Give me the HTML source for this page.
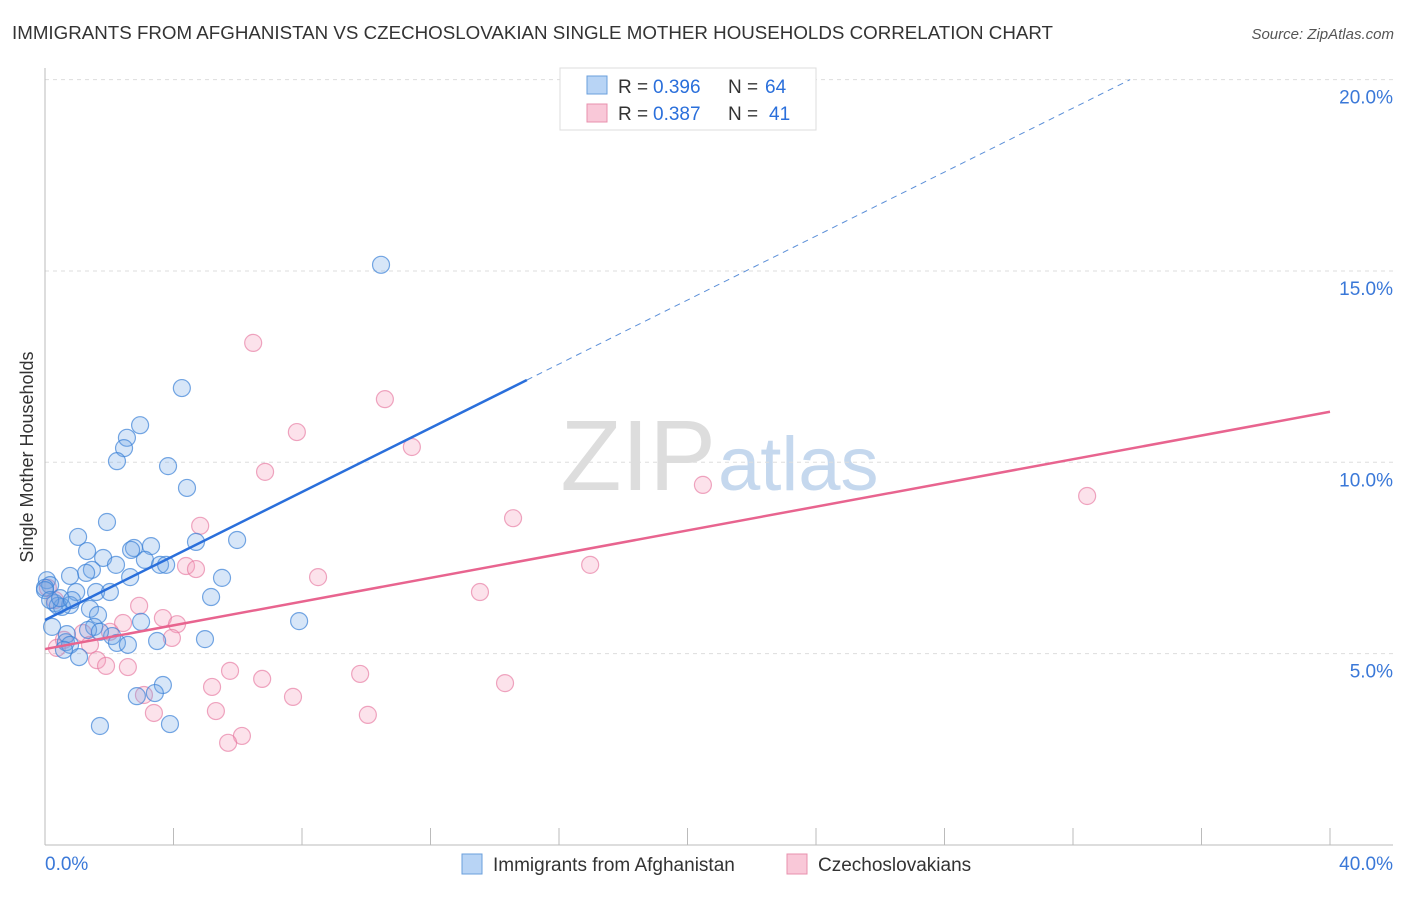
<!DOCTYPE html>
<html><head><meta charset="utf-8"><style>
body{margin:0;background:#fff;font-family:"Liberation Sans",sans-serif;}
svg text{font-family:"Liberation Sans",sans-serif;}
</style></head><body>
<svg id="chart" width="1406" height="892">
<text x="12" y="39" font-size="18" fill="#333" textLength="1041" lengthAdjust="spacingAndGlyphs">IMMIGRANTS FROM AFGHANISTAN VS CZECHOSLOVAKIAN SINGLE MOTHER HOUSEHOLDS CORRELATION CHART</text>
<text x="1394" y="39" font-size="15" fill="#555" font-style="italic" text-anchor="end">Source: ZipAtlas.com</text>
<text x="33" y="457" font-size="18" fill="#333" text-anchor="middle" transform="rotate(-90 33 457)">Single Mother Households</text>
<text x="716" y="490" font-size="100" fill="#ddd" font-family="Liberation Serif" text-anchor="end">ZIP</text>
<text x="718" y="490" font-size="76" fill="#c5d8ee">atlas</text>
<g id="grid"></g><g id="axes"></g><g id="pts"></g><g id="lines"></g>
<g>
<rect x="560" y="68" width="256" height="62" fill="#fff" stroke="#ddd"/>
<rect x="587" y="76" width="20" height="18" fill="#b8d4f5" stroke="#6a9fdc"/>
<rect x="587" y="104" width="20" height="18" fill="#f9c8d8" stroke="#e890ae"/>
<text y="93" font-size="19" fill="#333"><tspan x="618">R =</tspan><tspan x="653" fill="#2a6fdb">0.396</tspan><tspan x="728">N =</tspan><tspan x="765" fill="#2a6fdb">64</tspan></text>
<text y="120" font-size="19" fill="#333"><tspan x="618">R =</tspan><tspan x="653" fill="#2a6fdb">0.387</tspan><tspan x="728">N =</tspan><tspan x="769" fill="#2a6fdb">41</tspan></text>
</g>
<g>
<rect x="462" y="854" width="20" height="20" fill="#b8d4f5" stroke="#6a9fdc"/>
<text x="493" y="871" font-size="19" fill="#333">Immigrants from Afghanistan</text>
<rect x="787" y="854" width="20" height="20" fill="#f9c8d8" stroke="#e890ae"/>
<text x="818" y="871" font-size="19" fill="#333">Czechoslovakians</text>
</g>
</svg>
<script>
const blueX=[10.46,4.26,2.96,2.55,2.46,2.24,3.83,4.42,1.93,1.03,5.98,4.70,3.30,2.77,1.31,1.81,2.68,3.11,2.21,3.58,3.77,1.46,1.28,0.78,2.65,5.51,0.06,0.16,0,0.97,1.59,2.02,5.17,0.31,0.78,0.53,0.40,1.40,1.65,7.91,2.99,0.22,1.53,0.68,2.09,3.49,4.98,2.24,2.58,0.65,0.78,1.06,3.67,3.42,2.86,1.71,3.89,0,0.16,0.47,0.84,1.34,1.71,0.59];
const blueY=[15.16,11.94,10.97,10.64,10.37,10.03,9.90,9.33,8.44,8.05,7.97,7.92,7.81,7.76,7.68,7.50,7.71,7.45,7.32,7.32,7.32,7.19,7.11,7.03,7.00,6.98,6.92,6.79,6.72,6.61,6.61,6.61,6.48,6.32,6.27,6.22,6.25,6.17,6.01,5.85,5.83,5.70,5.70,5.51,5.46,5.33,5.38,5.28,5.23,5.30,5.23,4.91,4.18,3.97,3.89,3.11,3.16,6.66,6.40,6.45,6.40,5.62,5.57,5.10];
const pinkX=[6.48,10.58,7.84,11.42,6.85,20.48,32.44,14.57,4.83,4.39,4.70,8.50,16.97,13.54,2.93,3.67,2.43,4.11,2.02,1.18,3.95,1.40,0.37,0.59,0.31,0.09,1.62,1.90,2.58,5.76,9.81,6.76,5.20,14.32,7.72,3.08,3.39,5.32,10.05,6.13,5.70];
const pinkY=[13.12,11.65,10.79,10.40,9.75,9.41,9.12,8.54,8.34,7.29,7.21,7.00,7.32,6.61,6.25,5.93,5.80,5.77,5.57,5.54,5.41,5.23,5.15,5.36,6.40,6.72,4.83,4.68,4.65,4.55,4.47,4.34,4.13,4.23,3.87,3.92,3.45,3.50,3.40,2.85,2.67];
const yTicks=[5,10,15,20];
const xTickLabels=["0.0%","40.0%"];
const blueTrend=[5.88,0.418];
const pinkTrend=[5.12,0.155];
const NS="http://www.w3.org/2000/svg";
const X=v=>45+v*1285/40, Y=v=>845-v*38.27;
function mk(p,t,a){const e=document.createElementNS(NS,t);for(const k in a)e.setAttribute(k,a[k]);document.getElementById(p).appendChild(e);return e;}
yTicks.forEach(t=>{
 const l=mk('grid','line',{x1:45,x2:1393,y1:Y(t),y2:Y(t),stroke:'#ddd','stroke-dasharray':'4 4'});
 
 
 const tx=mk('grid','text',{x:1393,y:Y(t)+24,'font-size':19,fill:'#3a78d8','text-anchor':'end'});
 tx.textContent=t.toFixed(1)+'%';
 
 
});
mk('axes','line',{x1:45,x2:45,y1:68,y2:845,stroke:'#bbb'});
mk('axes','line',{x1:45,x2:1393,y1:845,y2:845,stroke:'#bbb'});
for(let i=0;i<=10;i++){mk('axes','line',{x1:X(i*4),x2:X(i*4),y1:828,y2:845,stroke:'#bbb'});}
const xl0=mk('axes','text',{x:45,y:870,'font-size':19,fill:'#3a78d8'});xl0.textContent=xTickLabels[0];


const xl1=mk('axes','text',{x:1393,y:870,'font-size':19,fill:'#3a78d8','text-anchor':'end'});xl1.textContent=xTickLabels[1];


pinkX.forEach((x,i)=>{const c=mk('pts','circle',{cx:X(x),cy:Y(pinkY[i]),r:8.5,fill:'rgba(245,160,190,0.3)',stroke:'rgba(230,120,160,0.65)','stroke-width':1.2});
 
 });
blueX.forEach((x,i)=>{const c=mk('pts','circle',{cx:X(x),cy:Y(blueY[i]),r:8.5,fill:'rgba(110,165,230,0.28)',stroke:'rgba(60,130,215,0.7)','stroke-width':1.2});
 
 });
const bf=x=>blueTrend[0]+blueTrend[1]*x, pf=x=>pinkTrend[0]+pinkTrend[1]*x;
const xEnd=(20-blueTrend[0])/blueTrend[1];
let l=mk('lines','line',{x1:X(0),y1:Y(bf(0)),x2:X(15),y2:Y(bf(15)),stroke:'#2a6fdb','stroke-width':2.5});


l=mk('lines','line',{x1:X(15),y1:Y(bf(15)),x2:X(xEnd),y2:Y(20),stroke:'#5b8fd8','stroke-width':1,'stroke-dasharray':'6 5'});


l=mk('lines','line',{x1:X(0),y1:Y(pf(0)),x2:X(40),y2:Y(pf(40)),stroke:'#e8648f','stroke-width':2.5});


</script>
</body></html>
